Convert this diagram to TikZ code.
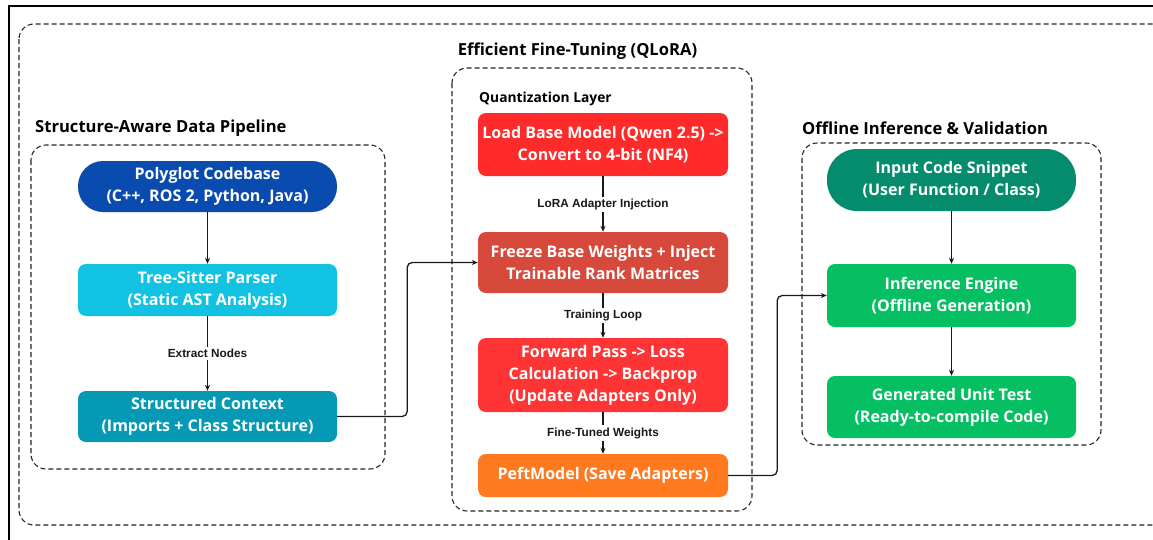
\documentclass[tikz,border=0pt]{standalone}
\usepackage{fontspec}
\setmainfont{Open Sans}
\newfontfamily\lblfont{Liberation Sans Bold}
\usetikzlibrary{arrows.meta,calc}
\definecolor{cPoly}{HTML}{0A4BAF}
\definecolor{cTree}{HTML}{12C2E3}
\definecolor{cStruct}{HTML}{0699B5}
\definecolor{cLoad}{HTML}{FF2B2B}
\definecolor{cFreeze}{HTML}{D6493B}
\definecolor{cFwd}{HTML}{FF3535}
\definecolor{cPeft}{HTML}{FF7A1F}
\definecolor{cInput}{HTML}{048C6C}
\definecolor{cGreen}{HTML}{05BF62}
\tikzset{
  procbox/.style={draw=none, text=white, font=\bfseries\fontsize{16}{22}\selectfont, align=center, inner sep=0pt, rounded corners=8pt},
  pillbox/.style={procbox, rounded corners=25pt},
  groupbox/.style={draw=black!85, dashed, dash pattern=on 5pt off 3pt, line width=1.1pt, rounded corners=15pt},
  grouplabel/.style={font=\bfseries\fontsize{16.6}{19}\selectfont, anchor=west, inner sep=0pt},
  sublabel/.style={font=\bfseries\fontsize{13.8}{16}\selectfont, anchor=west, inner sep=0pt},
  edgelabel/.style={font=\lblfont\fontsize{11.8}{14}\selectfont, text=black!90, fill=white, inner sep=2pt},
  arr/.style={-{Stealth[length=6pt,width=5pt]}, line width=1.3pt, black!90},
}
\begin{document}
\begin{tikzpicture}[x=1pt,y=-1pt]
\useasboundingbox (0,0) rectangle (1153,539);
\begin{scope}
\clip (0,0) rectangle (1153,539);
\fill[white] (0,0) rectangle (1153,539);
\draw[line width=1.4pt, black] (9,560) -- (9,6) -- (1180,6);
\draw[groupbox] (19,24) rectangle (1170,525);
% groups
\draw[groupbox] (31,145) rectangle (385,469);
\draw[groupbox] (452,68) rectangle (752,511);
\draw[groupbox] (802,143) rectangle (1101,445);
\end{scope}
\node[grouplabel] (glA) at (35,128) {Structure-Aware Data Pipeline};
\node[grouplabel, anchor=center] (glB) at (577.5,51) {Efficient Fine-Tuning (QLoRA)};
\node[grouplabel] (glC) at (802,128) {Offline Inference \& Validation};
\node[sublabel] (ql) at (479,99) {Quantization Layer};
% left nodes
\node[pillbox, fill=cPoly, minimum width=259pt, minimum height=51pt] (poly) at (207.5,186.5) {Polyglot Codebase\\(C++, ROS 2, Python, Java)};
\node[procbox, fill=cTree, minimum width=259pt, minimum height=52pt] (tree) at (207.5,290) {Tree-Sitter Parser\\(Static AST Analysis)};
\node[procbox, fill=cStruct, minimum width=259pt, minimum height=51pt] (struct) at (207.5,416.5) {Structured Context\\(Imports + Class Structure)};
% middle nodes
\node[procbox, fill=cLoad, minimum width=250pt, minimum height=63pt] (load) at (603,144.5) {Load Base Model (Qwen 2.5) ->\\Convert to 4-bit (NF4)};
\node[procbox, fill=cFreeze, minimum width=250pt, minimum height=61pt] (freeze) at (603,262.5) {Freeze Base Weights + Inject\\Trainable Rank Matrices};
\node[procbox, fill=cFwd, minimum width=250pt, minimum height=74pt] (fwd) at (603,375) {Forward Pass -> Loss\\Calculation -> Backprop\\(Update Adapters Only)};
\node[procbox, fill=cPeft, minimum width=250pt, minimum height=43pt] (peft) at (603,475.5) {PeftModel (Save Adapters)};
% right nodes
\node[pillbox, fill=cInput, minimum width=249pt, minimum height=62pt, rounded corners=30pt] (input) at (951.5,180) {Input Code Snippet\\(User Function / Class)};
\node[procbox, fill=cGreen, minimum width=249pt, minimum height=63pt] (infer) at (951.5,295.5) {Inference Engine\\(Offline Generation)};
\node[procbox, fill=cGreen, minimum width=249pt, minimum height=62pt] (gen) at (951.5,407) {Generated Unit Test\\(Ready-to-compile Code)};
% connectors
\draw[arr] (poly) -- (tree);
\draw[arr] (tree) -- node[edgelabel] {Extract Nodes} (struct);
\draw[arr] (load) -- node[edgelabel] {LoRA Adapter Injection} (freeze);
\draw[arr] (freeze) -- node[edgelabel] {Training Loop} (fwd);
\draw[arr] (fwd) -- node[edgelabel] {Fine-Tuned Weights} (peft);
\draw[arr] (input) -- (infer);
\draw[arr] (infer) -- (gen);
\draw[arr, rounded corners=5pt] (struct.east) -- ++(70,0) |- (freeze.west);
\draw[arr, rounded corners=5pt] (peft.east) -- ++(49,0) |- (infer.west);
\end{tikzpicture}
\end{document}
